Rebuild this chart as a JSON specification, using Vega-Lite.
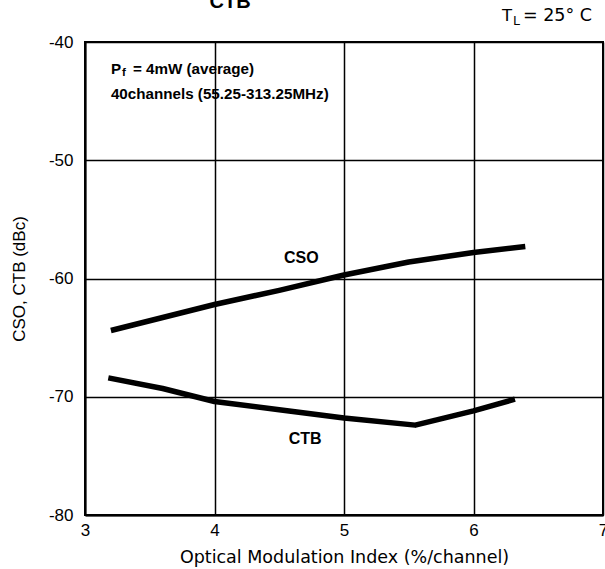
{
  "$schema": "https://vega.github.io/schema/vega-lite/v6.json",
  "width": 518,
  "height": 473,
  "autosize": {"type": "none"},
  "padding": {"left": 85, "top": 42, "right": 2, "bottom": 54},
  "background": "white",
  "config": {
    "font": "Liberation Sans",
    "view": {"stroke": "black", "strokeWidth": 2}
  },
  "datasets": {
    "curves": [
      {"series": "CSO", "omi": 3.2, "db": -64.4},
      {"series": "CSO", "omi": 3.6, "db": -63.3},
      {"series": "CSO", "omi": 4.0, "db": -62.2},
      {"series": "CSO", "omi": 4.5, "db": -61.0},
      {"series": "CSO", "omi": 5.0, "db": -59.7},
      {"series": "CSO", "omi": 5.5, "db": -58.6},
      {"series": "CSO", "omi": 6.0, "db": -57.8},
      {"series": "CSO", "omi": 6.4, "db": -57.3},
      {"series": "CTB", "omi": 3.18, "db": -68.4},
      {"series": "CTB", "omi": 3.6, "db": -69.3},
      {"series": "CTB", "omi": 4.0, "db": -70.4},
      {"series": "CTB", "omi": 4.5, "db": -71.1},
      {"series": "CTB", "omi": 5.0, "db": -71.8},
      {"series": "CTB", "omi": 5.55, "db": -72.4},
      {"series": "CTB", "omi": 6.0, "db": -71.2},
      {"series": "CTB", "omi": 6.32, "db": -70.2}
    ],
    "labels": [
      {"omi": 4.67, "db": -58.3, "label": "CSO"},
      {"omi": 4.7, "db": -73.6, "label": "CTB"}
    ],
    "notes": [
      {"omi": 3.2, "db": -42.3, "label": "P"},
      {"omi": 3.2, "db": -44.4, "label": "40channels (55.25-313.25MHz)"}
    ],
    "notes2": [
      {"omi": 3.2, "db": -42.3, "label": "= 4mW (average)"}
    ],
    "sub": [
      {"omi": 3.2, "db": -42.3, "label": "f"}
    ],
    "top": [
      {"omi": 4.12, "db": -37.13, "label": "CTB"}
    ],
    "tl": [
      {"omi": 6.22, "db": -38.22, "label": "T"}
    ],
    "tl2": [
      {"omi": 6.22, "db": -38.22, "label": "= 25° C"}
    ],
    "tlsub": [
      {"omi": 6.22, "db": -38.22, "label": "L"}
    ]
  },
  "layer": [
    {
      "data": {"name": "curves"},
      "mark": {"type": "line", "color": "black", "strokeWidth": 5.5, "strokeCap": "butt", "strokeJoin": "round"},
      "encoding": {
        "x": {
          "field": "omi", "type": "quantitative",
          "scale": {"domain": [3, 7], "nice": false, "zero": false},
          "axis": {
            "values": [3, 4, 5, 6, 7],
            "labelExpr": "'' + datum.value",
            "title": "Optical Modulation Index (%/channel)",
            "titleFont": "DejaVu Sans", "titleFontSize": 17.5, "titleFontWeight": "normal",
            "titleColor": "black", "titlePadding": 10,
            "labelFontSize": 17, "labelColor": "black", "labelPadding": 7,
            "labelFlush": false, "labelOverlap": false,
            "ticks": false, "domainColor": "black", "domainWidth": 2,
            "grid": true, "gridColor": "black", "gridOpacity": 1, "gridWidth": 1.5
          }
        },
        "y": {
          "field": "db", "type": "quantitative",
          "scale": {"domain": [-80, -40], "nice": false, "zero": false},
          "axis": {
            "values": [-80, -70, -60, -50, -40],
            "labelExpr": "'-' + abs(datum.value)",
            "title": "CSO, CTB (dBc)",
            "titleFont": "Liberation Sans", "titleFontSize": 17, "titleFontWeight": "normal",
            "titleColor": "black", "titlePadding": 20,
            "labelFontSize": 17, "labelColor": "black", "labelPadding": 12,
            "labelFlush": false, "labelOverlap": false,
            "ticks": false, "domainColor": "black", "domainWidth": 2,
            "grid": true, "gridColor": "black", "gridOpacity": 1, "gridWidth": 1.5
          }
        },
        "detail": {"field": "series", "type": "nominal"}
      }
    },
    {
      "data": {"name": "labels"},
      "mark": {"type": "text", "fontSize": 16, "fontWeight": "bold", "color": "black", "align": "center", "baseline": "middle"},
      "encoding": {
        "x": {"field": "omi", "type": "quantitative"},
        "y": {"field": "db", "type": "quantitative"},
        "text": {"field": "label"}
      }
    },
    {
      "data": {"name": "notes"},
      "mark": {"type": "text", "fontSize": 15.2, "fontWeight": "bold", "color": "black", "align": "left", "baseline": "middle"},
      "encoding": {
        "x": {"field": "omi", "type": "quantitative"},
        "y": {"field": "db", "type": "quantitative"},
        "text": {"field": "label"}
      }
    },
    {
      "data": {"name": "sub"},
      "mark": {"type": "text", "fontSize": 11.5, "fontWeight": "bold", "color": "black", "align": "left", "baseline": "middle", "dx": 11, "dy": 4},
      "encoding": {
        "x": {"field": "omi", "type": "quantitative"},
        "y": {"field": "db", "type": "quantitative"},
        "text": {"field": "label"}
      }
    },
    {
      "data": {"name": "notes2"},
      "mark": {"type": "text", "fontSize": 15.2, "fontWeight": "bold", "color": "black", "align": "left", "baseline": "middle", "dx": 22},
      "encoding": {
        "x": {"field": "omi", "type": "quantitative"},
        "y": {"field": "db", "type": "quantitative"},
        "text": {"field": "label"}
      }
    },
    {
      "data": {"name": "top"},
      "mark": {"type": "text", "fontSize": 20, "fontWeight": "bold", "color": "black", "align": "center", "baseline": "alphabetic"},
      "encoding": {
        "x": {"field": "omi", "type": "quantitative"},
        "y": {"field": "db", "type": "quantitative"},
        "text": {"field": "label"}
      }
    },
    {
      "data": {"name": "tl"},
      "mark": {"type": "text", "font": "DejaVu Sans", "fontSize": 16.5, "color": "black", "align": "left", "baseline": "alphabetic"},
      "encoding": {
        "x": {"field": "omi", "type": "quantitative"},
        "y": {"field": "db", "type": "quantitative"},
        "text": {"field": "label"}
      }
    },
    {
      "data": {"name": "tlsub"},
      "mark": {"type": "text", "font": "DejaVu Sans", "fontSize": 12.5, "color": "black", "align": "left", "baseline": "alphabetic", "dx": 11, "dy": 4},
      "encoding": {
        "x": {"field": "omi", "type": "quantitative"},
        "y": {"field": "db", "type": "quantitative"},
        "text": {"field": "label"}
      }
    },
    {
      "data": {"name": "tl2"},
      "mark": {"type": "text", "font": "DejaVu Sans", "fontSize": 17.5, "color": "black", "align": "left", "baseline": "alphabetic", "dx": 21},
      "encoding": {
        "x": {"field": "omi", "type": "quantitative"},
        "y": {"field": "db", "type": "quantitative"},
        "text": {"field": "label"}
      }
    }
  ]
}
